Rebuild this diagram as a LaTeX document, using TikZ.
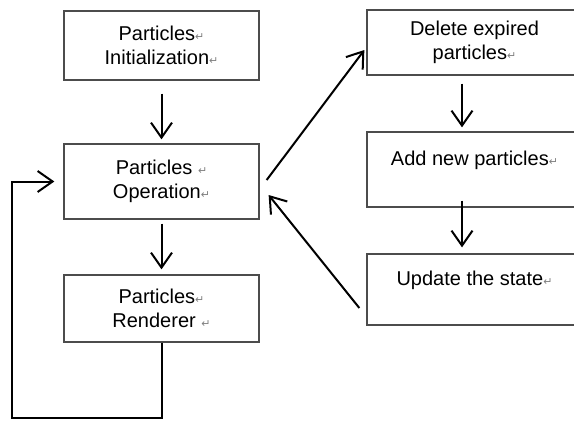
\documentclass[tikz,border=0pt]{standalone}
\usepackage{fontspec}
\setmainfont{Liberation Sans}
\newfontfamily\symfont{DejaVu Sans}
\usetikzlibrary{arrows.meta}
\newcommand{\retmark}{{\color{gray}\fontsize{11}{11}\selectfont\symfont ↵}}

\begin{document}
\begin{tikzpicture}[x=1pt,y=-1pt,
  box/.style={draw=black!70,line width=1.3pt,minimum width=195pt,inner sep=0pt,
    align=center,font=\fontsize{20}{23.5}\selectfont},
  rbox/.style={box,minimum width=215pt},
  flow/.style={-{Straight Barb[length=15pt,width=21pt]},line width=2pt}]

  \useasboundingbox (0,0) rectangle (574,421);

  % left column
  \node[box,minimum height=69pt] (init) at (161.5,45.5) {Particles\retmark\\Initialization\retmark};
  \node[box,minimum height=75pt] (oper) at (161.5,181.5) {Particles \retmark\\Operation\retmark};
  \node[box,minimum height=67pt] (rend) at (161.5,308.5) {Particles\retmark\\Renderer \retmark};

  % right column
  \node[rbox,minimum height=65pt] (del) at (474.5,42.5) {Delete expired\\particles\retmark};
  \node[rbox,minimum height=75pt] (add) at (474.5,169.5) {Add new particles\retmark\\\mbox{}};
  \node[rbox,minimum height=71pt] (upd) at (474.5,289.5) {Update the state\retmark\\\mbox{}};

  \coordinate (lp) at (12,418);

  \draw[flow,shorten <=13pt,shorten >=4pt] (init) -- (oper);
  \draw[flow,shorten <=4pt,shorten >=5pt] (oper) -- (rend);
  \draw[flow] (rend.south) |- (lp) |- ([xshift=-9pt]oper.west);

  \draw[flow,shorten <=8pt,shorten >=4pt] ([xshift=-12.5pt]del.south) -- ([xshift=-12.5pt]add.north);
  \draw[flow,shorten <=-7pt,shorten >=6pt] ([xshift=-12.5pt]add.south) -- ([xshift=-12.5pt]upd.north);

  \draw[flow] ([xshift=7pt,yshift=1.5pt]oper.east) -- ([xshift=-2pt,yshift=-7.5pt]del.west);
  \draw[flow] ([xshift=-7pt,yshift=-18.5pt]upd.west) -- ([xshift=9pt,yshift=-13.5pt]oper.east);
\end{tikzpicture}
\end{document}
